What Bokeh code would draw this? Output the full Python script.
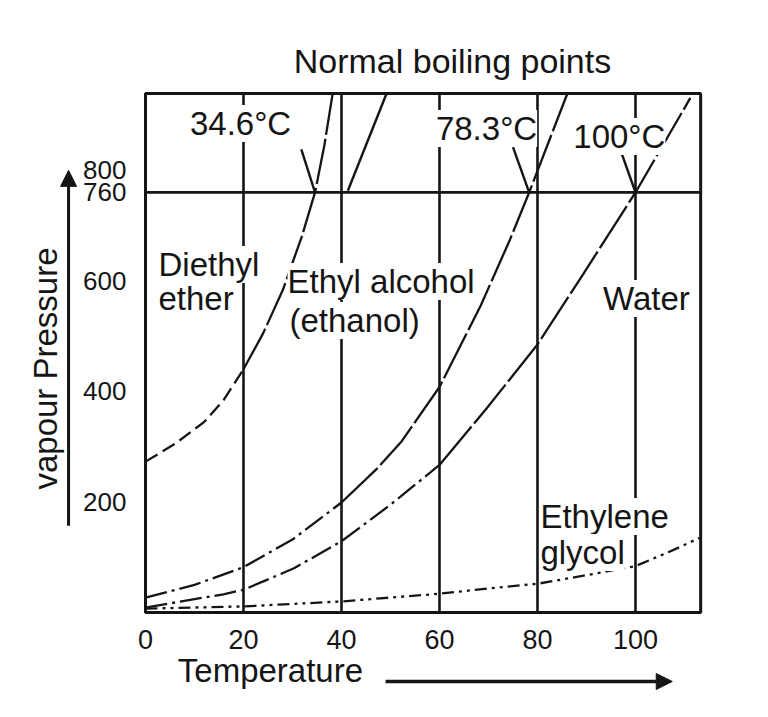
from bokeh.plotting import figure
from bokeh.models import FixedTicker, Label, Arrow, NormalHead, Range1d
from bokeh.embed import file_html
from bokeh.resources import INLINE

# ---- data (temperature in deg C, vapour pressure in mm Hg)
ether_T = [0, 6, 12, 16, 20, 24, 28, 31.9, 34.6, 36.5, 38.2]
ether_P = [273, 305, 345, 385, 440, 505, 583, 680, 760, 845, 939]

ethanol_T = [0, 10, 20, 30, 40, 47.2, 52.3, 60, 68.4, 74.4, 78.3, 86.1]
ethanol_P = [27, 50, 82, 132, 199, 260, 310, 408, 555, 675, 760, 939]

water_T = [0, 15.9, 20, 30.3, 40, 50, 60, 69.6, 80, 89.3, 100, 111.2]
water_P = [9, 33, 41, 80, 129, 195, 267, 369, 485, 612, 760, 931]

glycol_T = [0, 20, 40, 60, 70.5, 80, 90.3, 100, 106.7, 113.1]
glycol_P = [7, 11, 20, 34, 44, 52, 68, 84, 109, 135]

boiling_labels = ["34.6°C", "78.3°C", "100°C"]
atm_P = 760

x_ticks = [0, 20, 40, 60, 80, 100]
y_ticks = [200, 400, 600, 760, 800]
grid_T = [20, 40, 60, 80, 100]

# chart box limits (deg C, mm Hg)
box_T = [0, 113.3]
box_P = [0, 939]

# pointer lines from the boiling-point labels (start points)
ptr_T0 = [31.8, 75.0, 96.8, 49.2]
ptr_P0 = [838, 842, 840, 939]
ptr_T1 = [34.6, 78.3, 100, 41.3]
ptr_P1 = [760, 760, 760, 763]

INK = "#151515"
FONT = "Liberation Sans"

p = figure(width=752, height=700, output_backend="svg", toolbar_location=None,
           x_range=Range1d(-29.59, 123.88), y_range=Range1d(-159.2, 1107.3),
           min_border=0)
p.background_fill_color = "white"
p.border_fill_color = "white"
p.outline_line_color = None
p.grid.visible = False

# axes drawn at the chart box edges
p.xaxis.fixed_location = 0
p.yaxis.fixed_location = 0
p.xaxis.ticker = FixedTicker(ticks=x_ticks)
p.yaxis.ticker = FixedTicker(ticks=y_ticks)
for ax in (p.xaxis[0], p.yaxis[0]):
    ax.axis_line_color = None
    ax.major_tick_line_color = None
    ax.minor_tick_line_color = None
    ax.major_label_text_font = FONT
    ax.major_label_text_color = INK
p.xaxis.major_label_text_font_size = "27px"
p.yaxis.major_label_text_font_size = "26px"
p.xaxis.major_label_standoff = 11
p.yaxis.major_label_standoff = 13

# chart box, vertical grid lines and the 760 mm line
p.quad(left=[box_T[0]], right=[box_T[1]], bottom=[box_P[0]], top=[box_P[1]],
       fill_color=None, line_color=INK, line_width=3)
p.segment(x0=grid_T, y0=[box_P[0]] * len(grid_T), x1=grid_T, y1=[box_P[1]] * len(grid_T),
          line_color=INK, line_width=2.6)
p.segment(x0=[box_T[0]], y0=[atm_P], x1=[box_T[1]], y1=[atm_P], line_color=INK, line_width=2.8)

# curves: lower part broken, upper part nearly solid
def curve(T, P, k, dash_low, dash_high):
    p.line(T[:k + 1], P[:k + 1], line_color=INK, line_width=2.3, line_dash=dash_low)
    p.line(T[k:], P[k:], line_color=INK, line_width=2.3, line_dash=dash_high)

curve(ether_T, ether_P, 4, "14 6", "46 4")
curve(ethanol_T, ethanol_P, 4, "22 5 3 5", "50 4")
curve(water_T, water_P, 6, "22 5 3 5", "50 4")
p.line(glycol_T, glycol_P, line_color=INK, line_width=2.3, line_dash="12 5 3 5 3 5")

p.segment(ptr_T0, ptr_P0, ptr_T1, ptr_P1, line_color=INK, line_width=2.4)

def lab(x, y, text, size="33px", align="left", bg=True, angle=0):
    p.add_layout(Label(x=x, y=y, text=text, text_font=FONT, text_font_size=size,
                       text_color=INK, text_align=align, text_baseline="middle",
                       angle=angle,
                       background_fill_color="white" if bg else None,
                       background_fill_alpha=1.0 if bg else 0))

lab(62.65, 998.7, "Normal boiling points", size="34px", align="center", bg=False)
lab(19.4, 884.7, boiling_labels[0], align="center")
lab(69.6, 875.7, boiling_labels[1], align="center")
lab(96.7, 861.2, boiling_labels[2], align="center")
lab(2.65, 629.6, "Diethyl")
lab(2.65, 568.1, "ether")
lab(28.98, 598.9, "Ethyl alcohol")
lab(29.39, 528.3, "(ethanol)")
lab(102.24, 568.1, "Water", align="center")
lab(80.6, 173.7, "Ethylene")
lab(80.6, 108.6, "glycol")
lab(25.5, -104.9, "Temperature", size="33px", align="center", bg=False)
lab(-20.4, 441.5, "vapour Pressure", size="33px", align="center", bg=False, angle=1.5708)

p.add_layout(Arrow(end=NormalHead(size=16, fill_color=INK, line_color=INK),
                   x_start=-15.7, y_start=157, x_end=-15.7, y_end=800,
                   line_color=INK, line_width=3))
p.add_layout(Arrow(end=NormalHead(size=16, fill_color=INK, line_color=INK),
                   x_start=49, y_start=-124.8, x_end=107.5, y_end=-124.8,
                   line_color=INK, line_width=3.5))

open("out.html", "w").write(file_html(p, INLINE))
